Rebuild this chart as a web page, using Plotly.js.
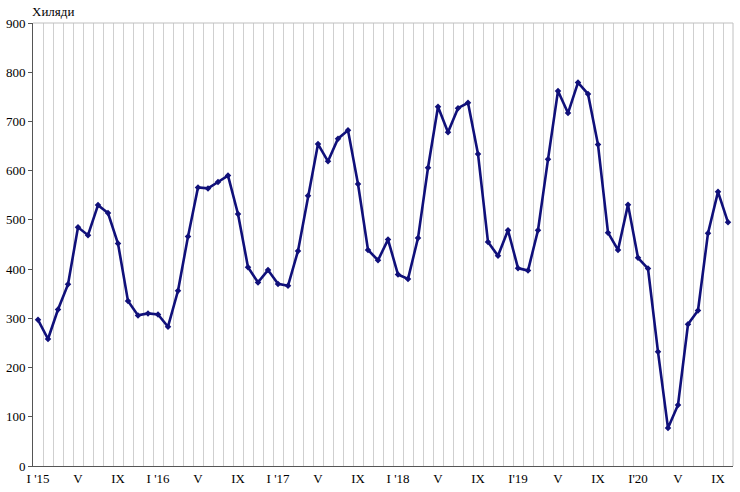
<!DOCTYPE html>
<html>
<head>
<meta charset="utf-8">
<script src="https://cdn.plot.ly/plotly-3.0.1.min.js"></script>
<style>html,body{margin:0;padding:0;background:#fff;}#chart{width:740px;height:492px;}</style>
</head>
<body>
<div id="chart"></div>
<script>
// Months Jan 2015 – Oct 2020
const months = [
  "2015-01","2015-02","2015-03","2015-04","2015-05","2015-06","2015-07","2015-08","2015-09","2015-10","2015-11","2015-12",
  "2016-01","2016-02","2016-03","2016-04","2016-05","2016-06","2016-07","2016-08","2016-09","2016-10","2016-11","2016-12",
  "2017-01","2017-02","2017-03","2017-04","2017-05","2017-06","2017-07","2017-08","2017-09","2017-10","2017-11","2017-12",
  "2018-01","2018-02","2018-03","2018-04","2018-05","2018-06","2018-07","2018-08","2018-09","2018-10","2018-11","2018-12",
  "2019-01","2019-02","2019-03","2019-04","2019-05","2019-06","2019-07","2019-08","2019-09","2019-10","2019-11","2019-12",
  "2020-01","2020-02","2020-03","2020-04","2020-05","2020-06","2020-07","2020-08","2020-09","2020-10"
];
// Values (thousands)
const values = [
  297,258,318,369,485,469,530,514,452,335,306,310,
  308,283,356,466,566,564,577,590,512,404,373,398,
  370,366,437,549,654,619,665,682,573,439,418,460,
  389,380,463,606,730,678,727,738,634,455,427,479,
  402,397,479,623,762,717,779,756,653,474,439,531,
  423,401,232,77,124,288,316,473,557,495
];
// Tick labels every 4 months
const tickMonths = ["2015-01","2015-05","2015-09","2016-01","2016-05","2016-09","2017-01","2017-05","2017-09",
  "2018-01","2018-05","2018-09","2019-01","2019-05","2019-09","2020-01","2020-05","2020-09"];
const tickLabels = ["I '15","V","IX","I '16","V","IX","I '17","V","IX","I '18","V","IX","I'19","V","IX","I'20","V","IX"];
const yLabel = "Хиляди";

const xIdx = months.map((m, i) => i);
const tickIdx = tickMonths.map(m => months.indexOf(m));

const serif = "'Times New Roman', 'Liberation Serif', 'DejaVu Serif', serif";

const trace = {
  x: xIdx,
  y: values,
  text: months,
  type: "scatter",
  mode: "lines+markers",
  line: {color: "#10107a", width: 2.6},
  marker: {color: "#10107a", size: 5, symbol: "diamond"},
  hoverinfo: "text+y"
};

const layout = {
  width: 740, height: 492,
  margin: {l: 33, r: 7, t: 23, b: 26, pad: 0},
  paper_bgcolor: "#fff", plot_bgcolor: "#fff",
  showlegend: false,
  font: {family: serif, size: 13, color: "#000"},
  xaxis: {
    type: "linear",
    range: [-0.5, months.length - 0.5],
    tickmode: "array",
    tickvals: tickIdx,
    ticktext: tickLabels,
    ticks: "",
    showgrid: false,
    zeroline: false,
    showline: true, linecolor: "#555", linewidth: 1,
    mirror: false,
    tickfont: {family: serif, size: 13, color: "#000"},
    minor: {tick0: -0.5, dtick: 1, showgrid: true, gridcolor: "#cfcfcf", gridwidth: 1, ticks: ""},
    fixedrange: true
  },
  yaxis: {
    range: [0, 900],
    dtick: 100,
    ticks: "outside", ticklen: 4, tickcolor: "#555",
    showgrid: false,
    zeroline: false,
    showline: true, linecolor: "#555", linewidth: 1,
    tickfont: {family: serif, size: 13, color: "#000"},
    fixedrange: true
  },
  shapes: [
    {type: "line", xref: "paper", yref: "paper", x0: 0, x1: 1, y0: 1, y1: 1, line: {color: "#c0c0c0", width: 1}},
    {type: "line", xref: "paper", yref: "paper", x0: 1, x1: 1, y0: 0, y1: 1, line: {color: "#c0c0c0", width: 1}}
  ],
  annotations: [
    {text: yLabel, xref: "paper", yref: "paper", x: 0, y: 1, xanchor: "left", yanchor: "bottom",
     xshift: -3, yshift: 2, showarrow: false, font: {family: serif, size: 13, color: "#000"}}
  ]
};

Plotly.newPlot("chart", [trace], layout, {displayModeBar: false, staticPlot: true});
</script>
</body>
</html>
